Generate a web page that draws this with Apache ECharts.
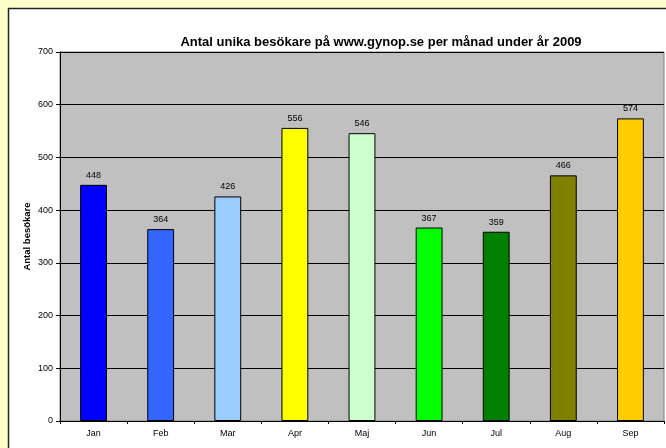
<!DOCTYPE html>
<html><head><meta charset="utf-8">
<script src="https://cdn.jsdelivr.net/npm/echarts@6/dist/echarts.min.js"></script>
<style>html,body{margin:0;padding:0;background:#FFFFCC;}#c{width:666px;height:448px;}</style>
</head><body><div id="c"></div>
<script>
const categories = ['Jan','Feb','Mar','Apr','Maj','Jun','Jul','Aug','Sep'];
const visitors = [448,364,426,556,546,367,359,466,574];
const barColors = ['#0000FF','#3366FF','#99CCFF','#FFFF00','#CCFFCC','#00FF00','#008000','#808000','#FFCC00'];
const yTicks = {min:0, max:700, interval:100};

const chart = echarts.init(document.getElementById('c'));
chart.setOption({
  backgroundColor:'#FFFFCC',
  animation:false,
  graphic:[{type:'rect', z:-10, silent:true, shape:{x:8.5,y:8.5,width:720,height:520}, style:{fill:'#FFFFFF', stroke:'#222', lineWidth:1.5}}],
  title:{text:'Antal unika besökare på www.gynop.se per månad under år 2009', left:376, top:31, textAlign:'center',
    textStyle:{fontFamily:'Liberation Sans, Arial', fontSize:13, fontWeight:'bold', color:'#000'}},
  grid:{left:60, top:52, right:2, bottom:27, show:true, backgroundColor:'#C0C0C0', borderColor:'#808080', borderWidth:1},
  xAxis:{type:'category', data:categories,
    axisLine:{lineStyle:{color:'#000', width:1}},
    axisTick:{show:true, length:3, lineStyle:{color:'#000'}},
    axisLabel:{fontFamily:'Liberation Sans, Arial', fontSize:9, color:'#000', margin:8}},
  yAxis:{type:'value', min:yTicks.min, max:yTicks.max, interval:yTicks.interval,
    name:'Antal besökare', nameLocation:'middle', nameGap:28, nameMoveOverlap:false,
    nameTextStyle:{fontFamily:'Liberation Sans, Arial', fontSize:9.5, fontWeight:'bold', color:'#000'},
    axisLine:{show:true, lineStyle:{color:'#000', width:1}},
    axisTick:{show:true, length:4, lineStyle:{color:'#000'}},
    axisLabel:{fontFamily:'Liberation Sans, Arial', fontSize:9, color:'#000', margin:7},
    splitLine:{lineStyle:{color:'#000', width:1}}},
  series:[{type:'bar', barWidth:'40%',
    data:visitors.map((v,i)=>({value:v, itemStyle:{color:barColors[i]}})),
    itemStyle:{borderColor:'#000', borderWidth:1},
    label:{show:true, position:'top', distance:5, fontFamily:'Liberation Sans, Arial', fontSize:9, color:'#000'}}]
});
</script></body></html>
